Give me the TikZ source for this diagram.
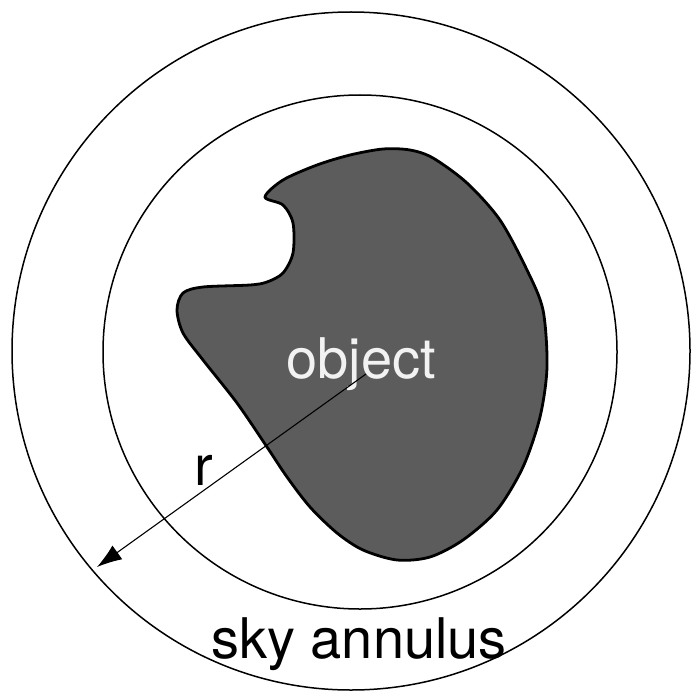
\documentclass[tikz,border=0pt]{standalone}
\usepackage{fontspec}
\setmainfont{TeX Gyre Heros}
\usetikzlibrary{arrows.meta}
\begin{document}
\begin{tikzpicture}[x=1pt,y=-1pt,
  ring/.style={draw=black,line width=1.5pt},
  blob/.style={draw=black,line width=2.8pt,fill=black!64},
  lbl/.style={font=\fontsize{56}{60}\selectfont,inner sep=0pt,anchor=base}]
\useasboundingbox (0,0) rectangle (697,698);
\fill[white] (0,0) rectangle (697,698);
\coordinate (oc) at (351,351);
\coordinate (ic) at (360,352);
\draw[ring] (oc) circle[radius=339];
\draw[ring] (ic) circle[radius=257];
\draw[blob] plot[smooth cycle,tension=0.5] coordinates {
(265,197) (283,180) (317,165) (350,155) (383,149) (410,150) (433,158)
(467,183) (500,220) (527,270) (543,310) (547,367) (540,417) (523,467)
(497,510) (463,540) (430,557) (397,560) (363,550) (337,533) (310,507)
(287,477) (267,447) (237,403) (203,360) (183,333) (177,310) (183,293)
(203,287) (250,285) (267,282) (283,273) (293,253) (293,223) (283,205)};
\node[lbl,text=white!95!black] (obj) at (361,378) {object};
\coordinate (c) at (366,374);
\coordinate (tip) at (97,567);
\draw[line width=1.1pt,-{Latex[length=25pt,width=17pt]}] (c) -- (tip);
\node[lbl] (r) at (204,485) {r};
\node[lbl] (sky) at (359,658) {sky annulus};
\end{tikzpicture}
\end{document}
